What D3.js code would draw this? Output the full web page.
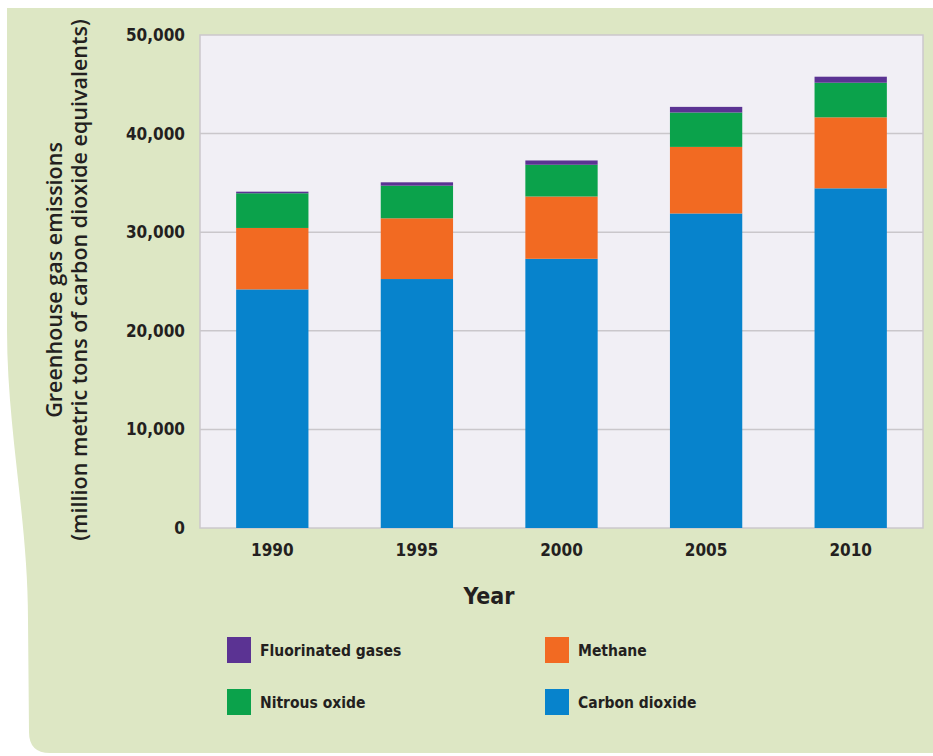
<!DOCTYPE html>
<html>
<head>
<meta charset="utf-8">
<script src="https://cdn.jsdelivr.net/npm/d3@7"></script>
<style>
  body { margin: 0; background: #fff; }
  text { font-family: 'Liberation Sans Narrow', 'DejaVu Sans Condensed', sans-serif; font-weight: bold; fill: #231f20; }
</style>
</head>
<body>
<script>
'use strict';

// data (million metric tons CO2 eq.)
let years = ['1990', '1995', '2000', '2005', '2010'];
let carbonDioxide = [24200, 25250, 27300, 31900, 34450];
let methane = [6230, 6160, 6320, 6750, 7200];
let nitrousOxide = [3520, 3310, 3220, 3490, 3510];
let fluorinated = [160, 340, 435, 570, 610];
let yTicks = [0, 10000, 20000, 30000, 40000, 50000];

let keys = ['co2', 'ch4', 'n2o', 'f'];
let names = {co2: 'Carbon dioxide', ch4: 'Methane', n2o: 'Nitrous oxide', f: 'Fluorinated gases'};
let colors = {co2: '#0783cc', ch4: '#f26a22', n2o: '#0ba24b', f: '#5b3393'};

let rows = years.map(function(y, i){
	return {year: y, co2: carbonDioxide[i], ch4: methane[i], n2o: nitrousOxide[i], f: fluorinated[i]};
});

let width = 933, height = 756;
let plot = {left: 200, right: 923, top: 35, bottom: 528};

let svg = d3.select('body').append('svg').attr('width', width).attr('height', height);

// green panel
svg.append('path')
	.attr('d', 'M7,8 L933,8 L933,753 L50,753 Q29,753 29,732 L28,620 C28,520 7,430 7,330 Z')
	.attr('fill', '#dde7c4');

let x = d3.scaleBand()
	.domain(years)
	.range([plot.left, plot.right])
	.paddingInner(0.5)
	.paddingOuter(0.25);
let y = d3.scaleLinear()
	.domain([0, 50000])
	.range([plot.bottom, plot.top]);

// plot background
svg.append('rect')
	.attr('x', plot.left).attr('y', plot.top)
	.attr('width', plot.right - plot.left).attr('height', plot.bottom - plot.top)
	.attr('fill', '#f1eff5')
	.attr('stroke', '#cbc8cc')
	.attr('stroke-width', 1.5);

// gridlines
svg.append('g')
	.selectAll('line')
	.data(yTicks.slice(1, -1))
	.enter().append('line')
	.attr('x1', plot.left).attr('x2', plot.right)
	.attr('y1', function(d){ return y(d); })
	.attr('y2', function(d){ return y(d); })
	.attr('stroke', '#cac7cb')
	.attr('stroke-width', 1.5);

// stacked bars
let stack = d3.stack().keys(keys)(rows);

svg.append('g')
	.selectAll('g')
	.data(stack)
	.enter().append('g')
	.attr('fill', function(d){ return colors[d.key]; })
	.selectAll('rect')
	.data(function(d){ return d; })
	.enter().append('rect')
	.attr('x', function(d){ return x(d.data.year); })
	.attr('width', x.bandwidth())
	.attr('y', function(d){ return y(d[1]); })
	.attr('height', function(d){ return y(d[0]) - y(d[1]); });

// y axis
let yAxis = d3.axisLeft(y)
	.tickValues(yTicks)
	.tickSize(0)
	.tickPadding(15)
	.tickFormat(d3.format(','));
let yg = svg.append('g')
	.attr('transform', 'translate(' + plot.left + ',0)')
	.call(yAxis);
yg.select('.domain').remove();
yg.selectAll('text').style('font-size', '17px').style('font-family', null).attr('fill', null);

// x axis
let xAxis = d3.axisBottom(x).tickSize(0).tickPadding(16);
let xg = svg.append('g')
	.attr('transform', 'translate(0,' + plot.bottom + ')')
	.call(xAxis);
xg.select('.domain').remove();
xg.selectAll('text').style('font-size', '17px').style('font-family', null).attr('fill', null);

// axis titles
svg.append('text')
	.attr('x', 489).attr('y', 604)
	.attr('text-anchor', 'middle')
	.style('font-size', '23px')
	.text('Year');

let yTitle = svg.append('text')
	.attr('transform', 'translate(0,280) rotate(-90)')
	.attr('text-anchor', 'middle')
	.style('font-family', "'Open Sans', sans-serif")
	.style('font-weight', '600')
	.style('font-size', '21.5px');
yTitle.append('tspan').attr('x', 0).attr('y', 62).text('Greenhouse gas emissions');
yTitle.append('tspan').attr('x', 0).attr('y', 87).text('(million metric tons of carbon dioxide equivalents)');

// legend
let legendItems = [
	{key: 'f', x: 227, y: 650},
	{key: 'ch4', x: 545, y: 650},
	{key: 'n2o', x: 227, y: 702},
	{key: 'co2', x: 545, y: 702}
];
let legend = svg.append('g')
	.selectAll('g')
	.data(legendItems)
	.enter().append('g')
	.attr('transform', function(d){ return 'translate(' + d.x + ',' + d.y + ')'; });
legend.append('rect')
	.attr('x', 0).attr('y', -13)
	.attr('width', 24).attr('height', 26)
	.attr('fill', function(d){ return colors[d.key]; });
legend.append('text')
	.attr('x', 33).attr('y', 6)
	.style('font-size', '15.5px')
	.text(function(d){ return names[d.key]; });
</script>
</body>
</html>
